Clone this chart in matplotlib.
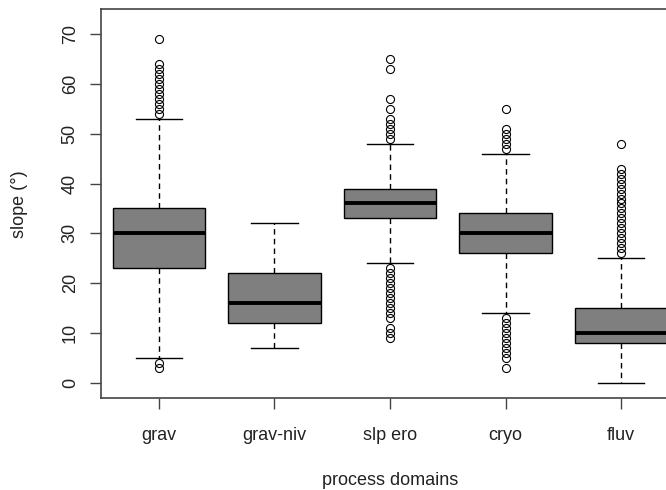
import matplotlib
matplotlib.use("Agg")
import matplotlib.pyplot as plt

plt.rcParams['font.family'] = ['Liberation Sans', 'DejaVu Sans']

domains = ["grav", "grav-niv", "slp ero", "cryo", "fluv"]

# box statistics (slope in degrees)
q1 = [23, 12, 33, 26, 8]
med = [30, 16, 36, 30, 10]
q3 = [35, 22, 39, 34, 15]
whis_lo = [5, 7, 24, 14, 0]
whis_hi = [53, 32, 48, 46, 25]

# outliers
out_grav = [69, 64, 63, 62, 61, 60, 59, 58, 57, 56, 55, 54, 4, 3]
out_gravniv = []
out_slpero = [65, 63, 57, 55, 53, 52, 51, 50, 49,
              23, 22, 21, 20, 19, 18, 17, 16, 15, 14, 13, 11, 10, 9]
out_cryo = [55, 51, 50, 49, 48, 47, 13, 12, 11, 10, 9, 8, 7, 6, 5, 3]
out_fluv = [48, 43, 42, 41, 40, 39, 38, 37, 36, 35, 34, 33, 32, 31, 30,
            29, 28, 27, 26]
outliers = [out_grav, out_gravniv, out_slpero, out_cryo, out_fluv]

yticks = [0, 10, 20, 30, 40, 50, 60, 70]

stats = []
for i, name in enumerate(domains):
    stats.append(dict(label=name, q1=q1[i], med=med[i], q3=q3[i],
                      whislo=whis_lo[i], whishi=whis_hi[i],
                      fliers=outliers[i]))

fig = plt.figure(figsize=(6.66, 4.90), dpi=100)
ax = fig.add_axes([101/666, 92/490, 578/666, 389/490])

ax.bxp(stats, positions=range(1, 6), widths=0.8, capwidths=0.4,
       patch_artist=True,
       boxprops=dict(facecolor='#7f7f7f', edgecolor='black', linewidth=1.0),
       medianprops=dict(color='black', linewidth=2.8, solid_capstyle='butt'),
       whiskerprops=dict(color='black', linewidth=1.0, linestyle=(0, (4, 3))),
       capprops=dict(color='black', linewidth=1.0),
       flierprops=dict(marker='o', markerfacecolor='none',
                       markeredgecolor='black', markersize=5.8,
                       markeredgewidth=0.8))

ax.set_xlim(0.5, 5.5)
ax.set_ylim(-3, 75)
ax.set_yticks(yticks)
ax.set_yticklabels([str(v) for v in yticks], rotation=90, va='center')
ax.set_xticks(range(1, 6))
ax.set_xticklabels(domains)

for sp in ax.spines.values():
    sp.set_color('#444444')
    sp.set_linewidth(1.2)
ax.tick_params(axis='both', length=8, width=1.0, color='#444444',
               labelsize=13, labelcolor='#222222')
ax.tick_params(axis='y', pad=8)
ax.tick_params(axis='x', pad=13)

fig.text(20/666, 1 - 204/490, "slope (°)", rotation=90, ha='center',
         va='center', fontsize=13, color='#222222')
fig.text(390/666, 1 - 480/490, "process domains", ha='center',
         va='center', fontsize=13, color='#222222')

fig.savefig("out.png", dpi=100)
